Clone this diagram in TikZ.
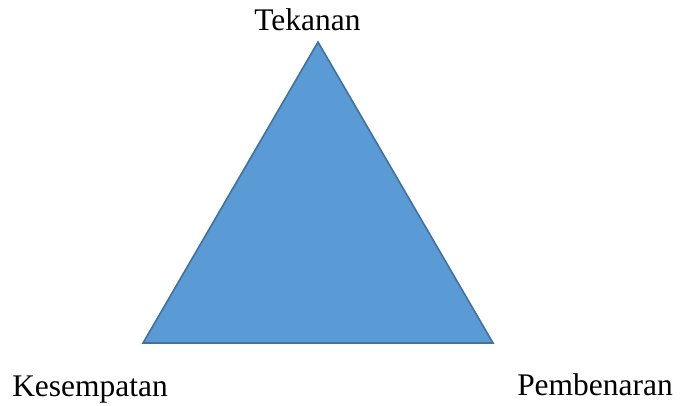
\documentclass[tikz,border=0pt]{standalone}
\usepackage{fontspec}
\setmainfont{Liberation Serif}
\usepackage{xcolor}
\definecolor{trifill}{HTML}{5B9BD5}
\definecolor{triline}{HTML}{41719C}
\tikzset{lbl/.style={inner sep=0pt,font=\fontsize{23.6}{28}\selectfont}}

\begin{document}
\begin{tikzpicture}[x=0.75pt,y=-0.75pt]
					\useasboundingbox (0,0) rectangle (680,405);
					\coordinate (top) at (318,42);
					\coordinate (kiri) at (143,343);
					\coordinate (kanan) at (493,343);
					\filldraw[fill=trifill,draw=triline,line width=1.2pt,line join=miter] (top) -- (kanan) -- (kiri) -- cycle;
					\node[lbl,anchor=base] (tekanan) at (307.5,30) {Tekanan};
					\node[lbl,anchor=base west] (kesempatan) at (12,396) {Kesempatan};
					\node[lbl,anchor=base] (pembenaran) at (595,395) {Pembenaran};
				\end{tikzpicture}
\end{document}
